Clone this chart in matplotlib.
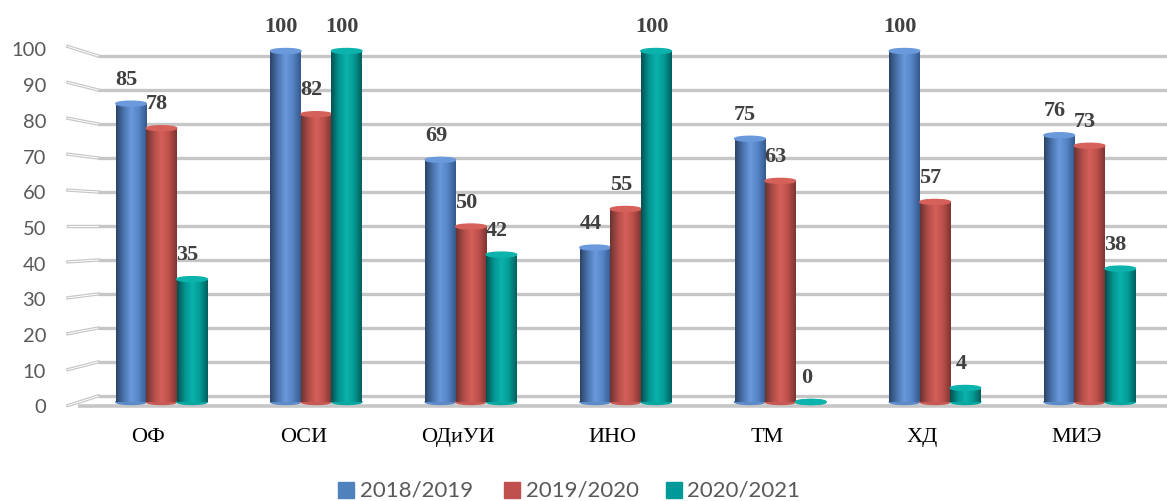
import numpy as np
import matplotlib
matplotlib.use('Agg')
import matplotlib.pyplot as plt
from matplotlib.colors import LinearSegmentedColormap
from matplotlib.patches import Ellipse, Rectangle

categories = ['ОФ', 'ОСИ', 'ОДиУИ', 'ИНО', 'ТМ', 'ХД', 'МИЭ']
years = ['2018/2019', '2019/2020', '2020/2021']
vals_2018 = [85, 100, 69, 44, 75, 100, 76]
vals_2019 = [78, 82, 50, 55, 63, 57, 73]
vals_2020 = [35, 100, 42, 100, 0, 4, 38]
y_ticks = [0, 10, 20, 30, 40, 50, 60, 70, 80, 90, 100]

W, H = 1167, 502
PX_Y = 3.51    # pixels per value unit on the bars
PITCH = 154.7  # pixels between groups
X0 = 161.5     # pixel centre of first group
Y0 = 403       # pixel of bar base

# the axes fill the figure, x = group index, y = value
fig = plt.figure(figsize=(W / 100, H / 100), dpi=100)
ax = fig.add_axes([0, 0, 1, 1])
ax.set_xlim(-X0 / PITCH, (W - X0) / PITCH)
ax.set_ylim(-(H - Y0) / PX_Y, Y0 / PX_Y)
ax.axis('off')

dx = 1 / PITCH  # one pixel in data units
dy = 1 / PX_Y

serif = 'Liberation Serif'
grid_c = '#c6c6c6'

# walls: back lines and slanted left part
x_front, x_back, x_end = ax.get_xlim()[0] + 68 * dx, ax.get_xlim()[0] + 98 * dx, ax.get_xlim()[1]
for t in y_ticks:
    back = (397 - t * 3.4 - Y0) / -PX_Y
    front = (406.5 - t * 3.59 - Y0) / -PX_Y
    ax.plot([x_back, x_end], [back, back], color=grid_c, lw=2.4, solid_capstyle='butt', zorder=1)
    ax.plot([x_front, x_back], [front, back], color=grid_c, lw=2.4, zorder=1)
    ax.plot([x_front, x_back], [front, back], color='white', lw=0.7, zorder=1.1)
    lab = (408 - t * 3.57 - Y0) / -PX_Y
    ax.text(ax.get_xlim()[0] + 46 * dx, lab, str(t), ha='right', va='center',
            fontsize=14.5, color='#595959', family='Lato')

# floor front edge
floor = -3.5 * dy * 1.0
ax.plot([ax.get_xlim()[0] + 78 * dx, x_end], [floor, floor], color=grid_c, lw=2.6,
        solid_capstyle='butt', zorder=1)

cmaps = [
    LinearSegmentedColormap.from_list('b', ['#2c4468', '#4a74ad', '#6a99dc', '#5583c4', '#35598c']),
    LinearSegmentedColormap.from_list('r', ['#6b3532', '#b04c48', '#d6605a', '#bc4f4a', '#7c3532']),
    LinearSegmentedColormap.from_list('t', ['#04504f', '#049490', '#0cb3ac', '#049a95', '#045f5d']),
]
solid = ['#4f81bd', '#c0504d', '#009999']
grad = np.linspace(0, 1, 64).reshape(1, -1)
bar_w = 30.5 * dx
cap_h = 5 * dy

for i, vals in enumerate([vals_2018, vals_2019, vals_2020]):
    for j, v in enumerate(vals):
        xc = j + (i - 1) * bar_w
        x1, x2 = xc - bar_w / 2, xc + bar_w / 2
        z = 3 + i * 0.01
        if v > 0:
            ax.imshow(grad, extent=(x1, x2, 0, v), cmap=cmaps[i], aspect='auto', zorder=z,
                      interpolation='bilinear')
        # rounded base and top of the cylinder
        ax.add_patch(Ellipse((xc, 0), bar_w, cap_h, color=cmaps[i](0.4), zorder=z - 0.005))
        ax.add_patch(Ellipse((xc, v), bar_w, cap_h, color=cmaps[i](0.5), zorder=z + 0.005))
        ax.text(xc - 4.5 * dx, v + 25 * dy, str(v), ha='center', va='center', fontsize=16,
                fontweight='bold', color='#404040', family=serif, zorder=5)

ax.set_xlim(-X0 / PITCH, (W - X0) / PITCH)
ax.set_ylim(-(H - Y0) / PX_Y, Y0 / PX_Y)

# category names are a bit left of the groups in the source
for j, c in enumerate(categories):
    ax.text(j - 13 * dx, -35 * dy, c, ha='center', va='center', fontsize=16, color='black',
            family=serif)

# legend drawn by hand to keep the spacing of the source
xl = ax.get_xlim()[0]
for px, tx, c, lab in zip([338, 504, 666], [360, 526, 687], solid, years):
    ax.add_patch(Rectangle((xl + px * dx, -(499 - Y0) * dy), 15.5 * dx, 16 * dy, color=c, zorder=5))
    ax.text(xl + tx * dx, -(491 - Y0) * dy, lab, ha='left', va='center', fontsize=16,
            color='#595959', family='Lato')

fig.savefig('out.png', dpi=100)
